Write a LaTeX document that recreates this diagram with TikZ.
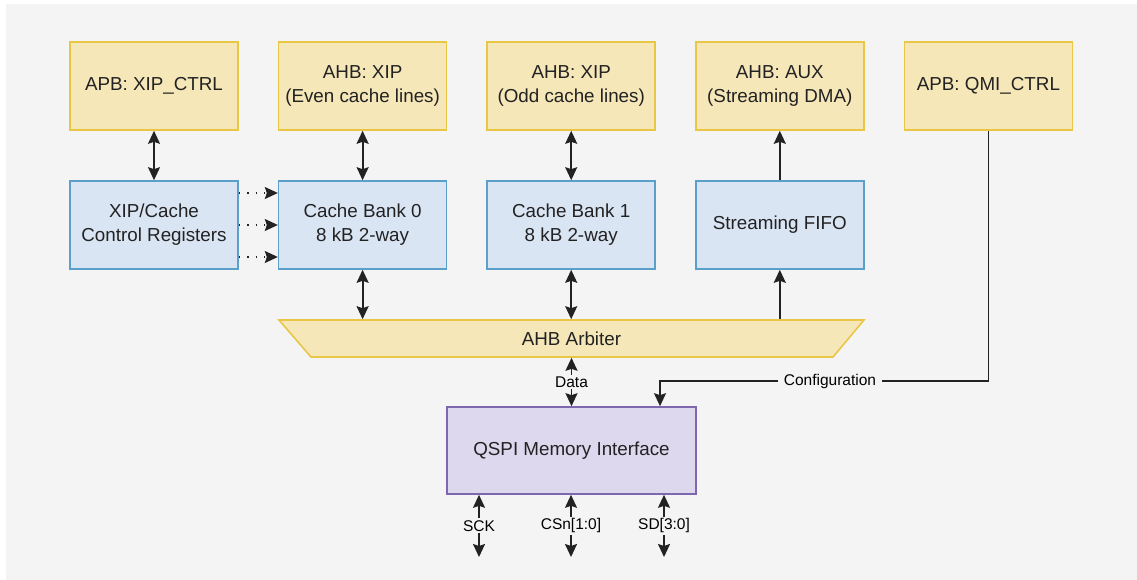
\documentclass[tikz,border=0pt]{standalone}
\usepackage{fontspec}
\setmainfont{Liberation Sans}
\usepackage{tikz}
\usetikzlibrary{arrows.meta,positioning}
\usepackage{xcolor}

\definecolor{bgGray}{HTML}{F4F4F4}
\definecolor{busFill}{HTML}{F6E7B9}
\definecolor{busLine}{HTML}{E9C646}
\definecolor{blkFill}{HTML}{DAE5F3}
\definecolor{blkLine}{HTML}{5B9FCB}
\definecolor{qspiFill}{HTML}{DDD8EE}
\definecolor{qspiLine}{HTML}{7D68B0}
\definecolor{txt}{HTML}{222222}

\begin{document}
\begin{tikzpicture}[x=1pt,y=-1pt,
	bus/.style={rectangle,draw=busLine,fill=busFill,line width=1.6pt,minimum width=168pt,minimum height=88pt,align=center},
	blk/.style={rectangle,draw=blkLine,fill=blkFill,line width=1.6pt,minimum width=168pt,minimum height=88pt,align=center},
	sig/.style={fill=bgGray,inner sep=2pt,font=\fontsize{15.5}{17}\selectfont},
	link/.style={line width=1.8pt,draw=txt,{Stealth[length=13pt,width=12pt,inset=2pt]}-{Stealth[length=13pt,width=12pt,inset=2pt]}},
	uplink/.style={line width=1.8pt,draw=txt,-{Stealth[length=13pt,width=12pt,inset=2pt]}},
	dotlink/.style={line width=1.4pt,draw=txt,dash pattern=on 1.4pt off 7pt,-{Stealth[length=13pt,width=12pt,inset=2pt]}}]
	\useasboundingbox (0,0) rectangle (1137,580);
	\fill[bgGray] (6,4) rectangle (1137,580);

	% arbiter outline, drawn under its label node
	\draw[draw=busLine,fill=busFill,line width=1.6pt] (279,320) -- (864,320) -- (833,357) -- (311,357) -- cycle;

	\begin{scope}[every node/.style={text=txt,font=\fontsize{18.8}{24}\selectfont},node distance=39pt]
		\node[bus] (XipCtrl) at (154,86) {APB: XIP\_CTRL};
		\node[bus,right=of XipCtrl] (XipEven) {AHB: XIP\\(Even cache lines)};
		\node[bus,right=of XipEven] (XipOdd) {AHB: XIP\\(Odd cache lines)};
		\node[bus,right=of XipOdd] (Aux) {AHB: AUX\\(Streaming DMA)};
		\node[bus,right=of Aux] (QmiCtrl) {APB: QMI\_CTRL};

		\node[blk,below=49.4pt of XipCtrl] (Regs) {XIP/Cache\\Control Registers};
		\node[blk,below=49.4pt of XipEven] (Bank0) {Cache Bank 0\\8 kB 2-way};
		\node[blk,below=49.4pt of XipOdd] (Bank1) {Cache Bank 1\\8 kB 2-way};
		\node[blk,below=49.4pt of Aux] (Fifo) {Streaming FIFO};

		\node[minimum width=585pt,minimum height=37pt,inner sep=0pt,outer sep=0.8pt] (Arbiter) at (571.5,338.5) {AHB Arbiter};

		\node[rectangle,draw=qspiLine,fill=qspiFill,line width=1.6pt,minimum width=249pt,minimum height=87pt]
			(Qspi) at (571.5,450.5) {QSPI Memory Interface};
	\end{scope}

	\coordinate (CfgTurn) at (660,381);
	\coordinate (SckEnd) at (479,557);
	\coordinate (CsnEnd) at (571,557);
	\coordinate (SdEnd) at (664,557);

	\begin{scope}
	\draw[link] (XipCtrl) -- (Regs);
	\draw[link] (XipEven) -- (Bank0);
	\draw[link] (XipOdd) -- (Bank1);
	\draw[uplink] (Fifo) -- (Aux);

	\draw[dotlink] (Regs.east |- 0,193) -- (Bank0.west |- 0,193);
	\draw[dotlink] (Regs.east) -- (Bank0.west);
	\draw[dotlink] (Regs.east |- 0,257) -- (Bank0.west |- 0,257);

	\draw[link] (Bank0) -- (Bank0 |- Arbiter.north);
	\draw[link] (Bank1) -- (Bank1 |- Arbiter.north);
	\draw[uplink] (Fifo |- Arbiter.north) -- (Fifo);

	\draw[link] (Arbiter.south) -- node[sig] (Data) {Data} (Qspi.north);
	\draw[uplink] (QmiCtrl.south) |- (CfgTurn) -- (CfgTurn |- Qspi.north);
	\node[sig,inner xsep=6pt] (Cfg) at (830,381) {Configuration};

	\draw[link] (Qspi.south -| SckEnd) -- node[sig] (Sck) {SCK} (SckEnd);
	\draw[link] (Qspi.south -| CsnEnd) -- node[sig] (Csn) {CSn[1:0]} (CsnEnd);
	\draw[link] (Qspi.south -| SdEnd) -- node[sig] (Sd) {SD[3:0]} (SdEnd);
	\end{scope}
\end{tikzpicture}
\end{document}
